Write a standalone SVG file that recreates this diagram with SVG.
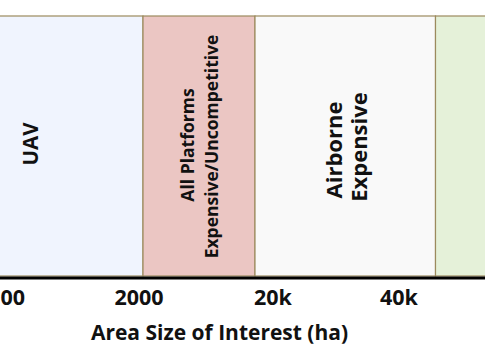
<svg xmlns="http://www.w3.org/2000/svg" width="485" height="360" viewBox="0 0 485 360">
<style>
.band{stroke:#9C8A5E;stroke-width:1.2}
.t{font-family:"Open Sans","Liberation Sans",sans-serif;font-weight:bold;fill:#111}
</style>
<rect width="485" height="360" fill="#ffffff"/>
<g id="uav">
<rect class="band" x="-2" y="16" width="145" height="260" fill="#F0F4FE"/>
<text class="t" font-size="20.5" text-anchor="middle" transform="translate(38,144) rotate(-90)">UAV</text>
</g>
<g id="all-platforms">
<rect class="band" x="143" y="16" width="112" height="260" fill="#EBC6C3"/>
<text class="t" font-size="17.5" text-anchor="middle" transform="translate(194,145) rotate(-90)">All Platforms</text>
<text class="t" font-size="17.5" text-anchor="middle" transform="translate(218,146.5) rotate(-90)">Expensive/Uncompetitive</text>
</g>
<g id="airborne">
<rect class="band" x="255" y="16" width="180.5" height="260" fill="#F9F9F9"/>
<text class="t" font-size="22" text-anchor="middle" transform="translate(342,150) rotate(-90)">Airborne</text>
<text class="t" font-size="22" text-anchor="middle" transform="translate(367,147) rotate(-90)">Expensive</text>
</g>
<g id="green">
<rect class="band" x="435.5" y="16" width="55" height="260" fill="#E5F1D9"/>
</g>
<g id="connectors">
<line x1="0" y1="278" x2="485" y2="278" stroke="#000" stroke-width="3"/>
</g>
<g id="axis-labels">
<text class="t" font-size="21.5" x="0.5" y="305">00</text>
<text class="t" font-size="21.5" text-anchor="middle" x="139" y="305">2000</text>
<text class="t" font-size="21.5" text-anchor="middle" x="273" y="305">20k</text>
<text class="t" font-size="21.5" text-anchor="middle" x="399" y="305">40k</text>
<text class="t" font-size="21" text-anchor="middle" x="219.5" y="340">Area Size of Interest (ha)</text>
</g>
</svg>
